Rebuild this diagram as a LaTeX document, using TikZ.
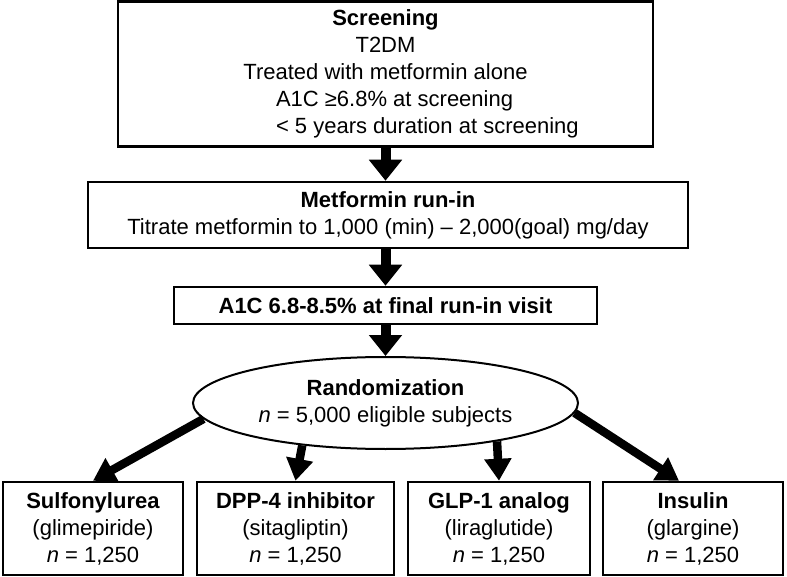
\documentclass[tikz,border=0pt]{standalone}
\usepackage{fontspec}
\setmainfont{Liberation Sans}
\usetikzlibrary{shapes.geometric,arrows.meta}
\begin{document}
\begin{tikzpicture}[x=1pt,y=-1pt,
  box/.style={draw,line width=2.5pt,inner sep=0pt,align=center,font=\fontsize{22}{27}\selectfont},
  oval/.style={draw,ellipse,line width=2pt,inner sep=0pt,align=center,font=\fontsize{22}{27}\selectfont},
  bigarrow/.style={line width=10pt,-{Triangle[width=32pt,length=21pt]}},
  diagarrow/.style={line width=8.5pt,-{Triangle[width=26pt,length=22pt]}}]
\useasboundingbox (0,0) rectangle (787,577);

\node[box,minimum width=535pt,minimum height=145pt] (scr) at (385.5,74) {%
  \textbf{Screening}\\
  T2DM\\
  Treated with metformin alone\\
  \makebox[0pt][l]{\hspace*{-109.5pt}A1C ≥6.8\% at screening}\\
  \makebox[0pt][l]{\hspace*{-109.5pt}< 5 years duration at screening}};

\node[box,minimum width=600pt,minimum height=66pt] (met) at (388,215) {%
  \textbf{Metformin run-in}\\
  Titrate metformin to 1,000 (min) -- 2,000(goal) mg/day};

\node[box,minimum width=423pt,minimum height=37pt] (a1c) at (385.5,305.5) {%
  \textbf{A1C 6.8-8.5\% at final run-in visit}};

\node[oval,minimum width=385pt,minimum height=92pt] (rand) at (385.5,403) {%
  \textbf{Randomization}\\
  \textit{n} = 5,000 eligible subjects};

\node[box,minimum width=180pt,minimum height=93pt] (b1) at (93,528.5) {%
  \textbf{Sulfonylurea}\\(glimepiride)\\\textit{n} = 1,250};
\node[box,minimum width=197pt,minimum height=93pt] (b2) at (295.5,528.5) {%
  \textbf{DPP-4 inhibitor}\\(sitagliptin)\\\textit{n} = 1,250};
\node[box,minimum width=182pt,minimum height=93pt] (b3) at (499,528.5) {%
  \textbf{GLP-1 analog}\\(liraglutide)\\\textit{n} = 1,250};
\node[box,minimum width=180pt,minimum height=93pt] (b4) at (693,528.5) {%
  \textbf{Insulin}\\(glargine)\\\textit{n} = 1,250};

\draw[bigarrow] (scr.south) -- (scr.south |- met.north);
\draw[bigarrow] (a1c.north |- met.south) -- (a1c.north);
\draw[bigarrow] (a1c.south) -- (rand.north);

\draw[diagarrow] (rand.185) -- (b1.north);
\draw[diagarrow] (rand.207) -- (b2.north);
\draw[diagarrow] (rand.-19.5) -- (b3.north);
\draw[diagarrow] (rand.-3.6) -- ([xshift=-14pt]b4.north);
\end{tikzpicture}
\end{document}
